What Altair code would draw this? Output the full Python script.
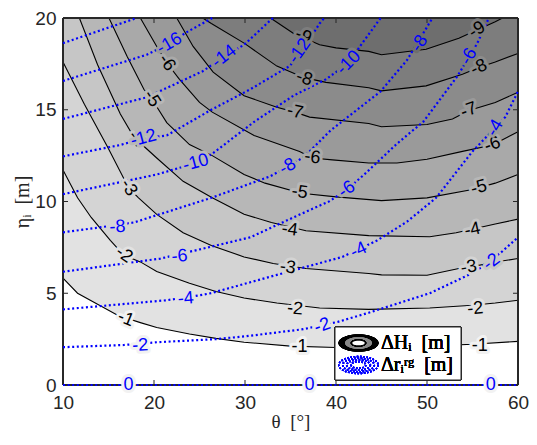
import math
import altair as alt
import pandas as pd

# ---------------- data ----------------
THETA_TICKS = [10, 20, 30, 40, 50, 60]
ETA_TICKS = [0, 5, 10, 15, 20]

# Delta H_i contour lines (black, solid): (theta, eta) vertices
DH_LEVELS = [-1, -2, -3, -4, -5, -6, -7, -8, -9]
DH_M1 = [(10, 5.82), (11.6, 5.0), (13.8, 4.40), (16, 3.8), (18.5, 3.40), (20.3, 3.13), (23.9, 2.78),
         (26.8, 2.54), (29.9, 2.33), (35, 2.12), (40, 2.04), (45, 2.04), (50, 2.12), (55, 2.22), (60, 2.38)]
DH_M2 = [(10, 11.72), (11.6, 10.2), (13.1, 9.13), (15.2, 7.88), (16.7, 7.07), (18.5, 6.71), (20.3, 6.18),
         (23.9, 5.55), (26.8, 5.10), (29.9, 4.74), (33.5, 4.47), (38.2, 4.20), (43.6, 4.12), (50.3, 4.20),
         (55, 4.35), (57.5, 4.47), (60, 4.62)]
DH_M3 = [(10, 17.6), (12.35, 15.3), (14.9, 12.97), (17.2, 10.75), (18.3, 10.2), (20.3, 9.3), (23.2, 8.3),
         (26.3, 7.6), (29.9, 6.98), (33.1, 6.62), (36.7, 6.35), (43.6, 6.08), (45, 6.0), (50, 5.98),
         (53.5, 6.35), (55, 6.45), (57.5, 6.7), (60, 6.89)]
DH_M4 = [(11.8, 20), (13.8, 17.45), (16.3, 14.77), (17.8, 13.5), (20.3, 12.37), (23.2, 11.1), (26.4, 10.2),
         (29.9, 9.3), (32.9, 8.86), (36.7, 8.41), (43.6, 8.14), (50.3, 8.08), (53.2, 8.3), (57.5, 8.77),
         (60, 9.04)]
DH_M5 = [(15.05, 20), (17.05, 17.9), (18.9, 16.1), (19.75, 15.6), (21.4, 14.3), (23.9, 13.1), (26.4, 12.5),
         (29.9, 11.47), (32.2, 11.0), (36.2, 10.45), (40, 10.25), (45, 10.05), (50, 10.2), (55, 10.65),
         (57.5, 11.0), (60, 11.47)]
DH_M6 = [(18.5, 20), (20.3, 18.45), (21.4, 17.56), (22.8, 16.66), (25, 15.4), (26.4, 14.87), (31, 13.6),
         (36, 12.73), (37.4, 12.37), (39.6, 12.27), (43.6, 12.1), (46.7, 12.1), (50, 12.3), (53.9, 12.73),
         (57.2, 13.08), (60, 13.8)]
DH_M7 = [(22.5, 20), (24.3, 18.45), (26.5, 17.05), (29.9, 15.76), (33.5, 15.14), (35.5, 14.87), (37.1, 14.6),
         (43.6, 14.25), (45, 14.07), (50, 14.2), (52.8, 14.5), (54.6, 14.96), (57.5, 15.4), (60, 15.95)]
DH_M8 = [(25.35, 20), (26.3, 19.7), (29.9, 18.63), (33.5, 17.38), (36.5, 16.75), (38.9, 16.49), (43.6, 16.2),
         (45, 16.03), (49.9, 16.3), (53.9, 16.93), (55.7, 17.3), (57.5, 17.6), (60, 18.07)]
DH_M9 = [(32.8, 20), (35.3, 19.17), (38.2, 18.54), (40, 18.37), (43.6, 18.18), (45, 18.0), (49.9, 18.3),
         (53.5, 18.9), (55.5, 19.35), (57.5, 19.8), (58.3, 20)]
DH_CURVES = [DH_M1, DH_M2, DH_M3, DH_M4, DH_M5, DH_M6, DH_M7, DH_M8, DH_M9]

# Delta r_i^rg contour lines (blue, dotted)
DR_LEVELS = [0, -2, -4, -6, -8, -10, -12, -14, -16, -18]
DR_0 = [(10, 0), (60, 0)]
DR_M2 = [(10, 2.06), (16.7, 2.18), (20.3, 2.33), (26.8, 2.5), (30, 2.65), (36.4, 3.04), (40.2, 3.44),
         (43.6, 3.94), (50.3, 5.0), (55.3, 6.17), (58.2, 7.25), (60, 8.05)]
DR_M4 = [(10, 4.12), (21.4, 4.62), (25.4, 4.92), (26.3, 5.01), (33.5, 6.0), (40.7, 6.98), (44.5, 7.87),
         (47.8, 8.9), (51, 10.2), (55, 12.73), (58.6, 14.6), (60, 16.0)]
DR_M6 = [(10, 6.17), (20.7, 6.89), (24.6, 7.34), (26.8, 7.6), (30.6, 8.05), (35.3, 9.13), (39.3, 10.02),
         (41.2, 10.65), (43.1, 11.47), (46.7, 13.15), (49.6, 14.35), (53.3, 16.8), (55.5, 18.6), (56.8, 20)]
DR_M8 = [(10, 8.32), (14.2, 8.6), (17.8, 8.86), (26.3, 10.2), (32.8, 11.38), (34.7, 11.9), (36.5, 12.43),
         (39.4, 13.87), (44.9, 16.0), (47.8, 17.7), (50.6, 20)]
DR_M10 = [(10, 10.4), (20.3, 11.47), (24.6, 12.1), (26.4, 12.6), (31, 14.34), (35.3, 15.76), (38.9, 16.66),
          (41.4, 17.56), (42.7, 18.5), (44.9, 20)]
DR_M12 = [(10, 12.46), (16.3, 13.08), (18.85, 13.44), (21.4, 13.6), (26.3, 15.0), (30.6, 16.12),
          (34.9, 17.38), (36, 18.0), (38.2, 19.7), (38.7, 20)]
DR_M14 = [(10, 14.5), (19.2, 15.68), (25.35, 17.1), (27.7, 17.9), (29.9, 18.54), (32.8, 19.88), (33.1, 20)]
DR_M16 = [(10, 16.57), (19.2, 18.0), (21.7, 18.6), (23.5, 19.2), (26.4, 20)]
DR_M18 = [(10, 18.63), (18.1, 20)]
DR_CURVES = [DR_0, DR_M2, DR_M4, DR_M6, DR_M8, DR_M10, DR_M12, DR_M14, DR_M16, DR_M18]

# contour labels: text, theta, eta, rotation (deg, clockwise)
DH_LABEL_TEXT = ["-1", "-1", "-1", "-2", "-2", "-2", "-3", "-3", "-3", "-4", "-4", "-4",
                 "-5", "-5", "-5", "-6", "-6", "-6", "-7", "-7", "-8", "-8", "-9", "-9"]
DH_LABEL_THETA = [16.9, 36.0, 55.8, 16.7, 35.5, 55.3, 17.2, 34.7, 54.6, 18.1, 34.9, 55.0,
                  19.75, 36.0, 55.7, 21.4, 37.4, 57.2, 35.5, 54.6, 36.5, 55.7, 36.4, 55.5]
DH_LABEL_ETA = [3.6, 2.05, 2.1, 7.1, 4.15, 4.15, 10.75, 6.4, 6.4, 13.4, 8.45, 8.45,
                15.6, 10.5, 10.75, 17.56, 12.4, 13.1, 14.87, 14.96, 16.7, 17.3, 19.0, 19.35]
DH_LABEL_ANGLE = [22, 0, 0, 35, 5, 355, 58, 8, 350, 50, 8, 348,
                  58, 8, 345, 55, 8, 340, 12, 340, 18, 335, 22, 328]

DR_LABEL_TEXT = ["0", "0", "0", "-2", "-2", "-2", "-4", "-4", "-4", "-6", "-6", "-6",
                 "-8", "-8", "-8", "-10", "-10", "-12", "-12", "-14", "-16"]
DR_LABEL_THETA = [17.2, 37.1, 57.0, 18.5, 38.5, 57.1, 23.5, 42.5, 57.5, 22.8, 41.2, 54.6,
                  16.0, 34.7, 49.2, 24.6, 41.4, 18.85, 36.0, 27.7, 21.7]
DR_LABEL_ETA = [0.0, 0.0, 0.0, 2.15, 3.22, 6.7, 4.7, 7.34, 14.0, 7.0, 10.65, 17.9,
                8.6, 11.9, 18.6, 12.1, 17.56, 13.44, 18.2, 17.9, 18.6]
DR_LABEL_ANGLE = [0, 0, 0, 357, 340, 323, 355, 335, 300, 355, 326, 300,
                  357, 330, 303, 345, 315, 345, 305, 322, 330]

# ---------------- styling ----------------
PAD_L, PAD_T, PAD_R, PAD_B = 55, 10, 11, 52
W, H = 521 - PAD_L - PAD_R, 429 - PAD_T - PAD_B
GRAYS = ["#f2f2f2", "#e2e2e2", "#d4d4d4", "#c6c6c6", "#b7b7b7",
         "#a9a9a9", "#9a9a9a", "#8b8b8b", "#7d7d7d", "#6e6e6e"]
AXIS_COLOR = "#262626"
SANS = "Liberation Sans"
SERIF = "Liberation Serif"
BLUE = "#0000ff"

xs = alt.Scale(domain=[10, 60], nice=False, zero=False)
ys = alt.Scale(domain=[0, 20], nice=False, zero=False)
x_axis = alt.Axis(values=THETA_TICKS, title="θ\u2002[°]", grid=False, ticks=False, domain=False,
                  labelFont=SANS, labelFontSize=19, labelColor=AXIS_COLOR, labelPadding=8,
                  labelFlush=False,
                  titleFont=SERIF, titleFontSize=19, titleFontWeight="normal", titleColor=AXIS_COLOR,
                  titlePadding=0)
y_axis = alt.Axis(values=ETA_TICKS, title="ηᵢ\u2002[m]", grid=False, ticks=False, domain=False,
                  labelFont=SANS, labelFontSize=19, labelColor=AXIS_COLOR, labelPadding=7,
                  labelFlush=False,
                  titleFont=SERIF, titleFontSize=20, titleFontWeight="normal", titleColor=AXIS_COLOR,
                  titlePadding=2)
X = alt.X("theta:Q", scale=xs, axis=x_axis)
Y = alt.Y("eta:Q", scale=ys, axis=y_axis, stack=None)
band_scale = alt.Scale(domain=list(range(10)), range=GRAYS)


def eta_on(pts, t):
    if t <= pts[0][0]:
        return 20.0 if pts[0][1] >= 19.99 else pts[0][1]
    if t >= pts[-1][0]:
        return 20.0 if pts[-1][1] >= 19.99 else pts[-1][1]
    for (t0, e0), (t1, e1) in zip(pts[:-1], pts[1:]):
        if t0 <= t <= t1:
            return e0 + (e1 - e0) * (t - t0) / (t1 - t0)
    return pts[-1][1]


def band_of(t, e):
    return sum(1 for pts in DH_CURVES if eta_on(pts, t) < e)


layers = []

# filled bands: paint region above each contour, from light to dark
for i, pts in enumerate(DH_CURVES):
    apts = list(pts)
    if apts[0][0] > 10:
        apts = [(10, 20)] + apts
    if apts[-1][0] < 60:
        apts = apts + [(60, 20)]
    df = pd.DataFrame(apts, columns=["theta", "eta"])
    df["top"] = 20
    layers.append(
        alt.Chart(df).mark_area(color=GRAYS[i + 1], interpolate="linear", strokeWidth=0)
        .encode(x=X, y=Y, y2="top")
    )

# black contour lines
rows = []
for lvl, pts in zip(DH_LEVELS, DH_CURVES):
    for k, (t, e) in enumerate(pts):
        rows.append({"level": lvl, "theta": t, "eta": e, "k": k})
dh_df = pd.DataFrame(rows)
layers.append(
    alt.Chart(dh_df).mark_line(color="black", strokeWidth=1.1)
    .encode(x=X, y=Y, detail="level:N", order="k:Q")
)

# inward ticks
xt = pd.DataFrame({"theta": THETA_TICKS})
yt = pd.DataFrame({"eta": ETA_TICKS})
layers.append(alt.Chart(xt).mark_rule(color=AXIS_COLOR, strokeWidth=1)
              .encode(x=X, y=alt.value(H), y2=alt.value(H - 5)))
layers.append(alt.Chart(xt).mark_rule(color=AXIS_COLOR, strokeWidth=1)
              .encode(x=X, y=alt.value(0), y2=alt.value(5)))
layers.append(alt.Chart(yt).mark_rule(color=AXIS_COLOR, strokeWidth=1)
              .encode(y=Y, x=alt.value(0), x2=alt.value(5)))
layers.append(alt.Chart(yt).mark_rule(color=AXIS_COLOR, strokeWidth=1)
              .encode(y=Y, x=alt.value(W), x2=alt.value(W - 5)))

# plot frame
layers.append(alt.Chart(xt).mark_rect(fillOpacity=0, stroke=AXIS_COLOR, strokeWidth=1)
              .encode(x=alt.value(0), x2=alt.value(W), y=alt.value(0), y2=alt.value(H)))

# blue dotted contour lines
rows = []
for lvl, pts in zip(DR_LEVELS, DR_CURVES):
    for k, (t, e) in enumerate(pts):
        rows.append({"level": lvl, "theta": t, "eta": e, "k": k})
dr_df = pd.DataFrame(rows)
layers.append(
    alt.Chart(dr_df).mark_line(color=BLUE, strokeWidth=2.2, strokeDash=[2, 2.6], clip=False)
    .encode(x=X, y=Y, detail="level:N", order="k:Q")
)

# contour labels (with a halo in the local band colour, like the line breaks of clabel)
dhl = pd.DataFrame({"txt": DH_LABEL_TEXT, "theta": DH_LABEL_THETA, "eta": DH_LABEL_ETA,
                    "ang": DH_LABEL_ANGLE})
dhl["band"] = [abs(int(s)) - 1 for s in DH_LABEL_TEXT]
drl = pd.DataFrame({"txt": DR_LABEL_TEXT, "theta": DR_LABEL_THETA, "eta": DR_LABEL_ETA,
                    "ang": DR_LABEL_ANGLE})
drl["band"] = [band_of(t, e) for t, e in zip(DR_LABEL_THETA, DR_LABEL_ETA)]

for df, col in [(dhl, "black"), (drl, BLUE)]:
    base = alt.Chart(df)
    halo = base.mark_text(font=SANS, fontSize=18, align="center", baseline="middle",
                          strokeWidth=6, strokeJoin="round").encode(
        x=X, y=Y, text="txt:N", angle=alt.Angle("ang:Q", scale=None),
        fill=alt.Fill("band:O", scale=band_scale, legend=None),
        stroke=alt.Stroke("band:O", scale=band_scale, legend=None))
    txt = base.mark_text(font=SANS, fontSize=18, color=col, align="center", baseline="middle").encode(
        x=X, y=Y, text="txt:N", angle=alt.Angle("ang:Q", scale=None))
    layers.append(halo)
    layers.append(txt)

# ---------------- legend (drawn in pixel space) ----------------
def ellipse_path(ry, n=48):
    pts = []
    for j in range(n):
        a = 2 * math.pi * j / n
        pts.append(f"{math.cos(a):.4f},{ry * math.sin(a):.4f}")
    return "M" + " L".join(pts) + " Z"

ELL = ellipse_path(0.43)
LX1 = W - 57
LX0 = LX1 - 126
LY1 = H - 5
LY0 = LY1 - 53
ICX = LX0 + 23.5
IC1, IC2 = LY0 + 16, LY0 + 38
TX = LX0 + 46
layers.append(alt.Chart(xt).mark_rect(fill="white", stroke=AXIS_COLOR, strokeWidth=1)
              .encode(x=alt.value(LX0), x2=alt.value(LX1), y=alt.value(LY0), y2=alt.value(LY1)))
layers.append(alt.Chart(xt).mark_point(shape=ELL, filled=True, fill="black", size=1600, opacity=1)
              .encode(x=alt.value(ICX), y=alt.value(IC1)))
layers.append(alt.Chart(xt).mark_point(shape=ELL, filled=True, fill="#888888", size=700, opacity=1)
              .encode(x=alt.value(ICX), y=alt.value(IC1)))
layers.append(alt.Chart(xt).mark_point(shape=ELL, filled=True, fill="white", stroke="black",
                                       strokeWidth=1.5, size=200, opacity=1)
              .encode(x=alt.value(ICX), y=alt.value(IC1)))
for sz in [1550, 1000, 560, 220]:
    layers.append(alt.Chart(xt).mark_point(shape=ELL, filled=False, stroke=BLUE, strokeWidth=1.6,
                                           strokeDash=[1.6, 1.6], size=sz, opacity=1)
                  .encode(x=alt.value(ICX), y=alt.value(IC2)))
layers.append(alt.Chart(xt).mark_text(text="ΔHᵢ\u2002[m]", font=SERIF, fontSize=20, color="black",
                                      align="left", baseline="middle")
              .encode(x=alt.value(TX), y=alt.value(IC1)))
layers.append(alt.Chart(xt).mark_text(text="Δrᵢʳᵍ\u2002[m]", font=SERIF, fontSize=20, color="black",
                                      align="left", baseline="middle")
              .encode(x=alt.value(TX), y=alt.value(IC2)))

chart = (
    alt.layer(*layers)
    .properties(width=W, height=H,
                padding={"left": PAD_L, "top": PAD_T, "right": PAD_R, "bottom": PAD_B},
                autosize=alt.AutoSizeParams(type="none"))
    .configure_view(fill=GRAYS[0], stroke=AXIS_COLOR, strokeWidth=1)
    .configure(background="white")
)

chart.save("out.html", embed_options={"renderer": "svg", "actions": False})
